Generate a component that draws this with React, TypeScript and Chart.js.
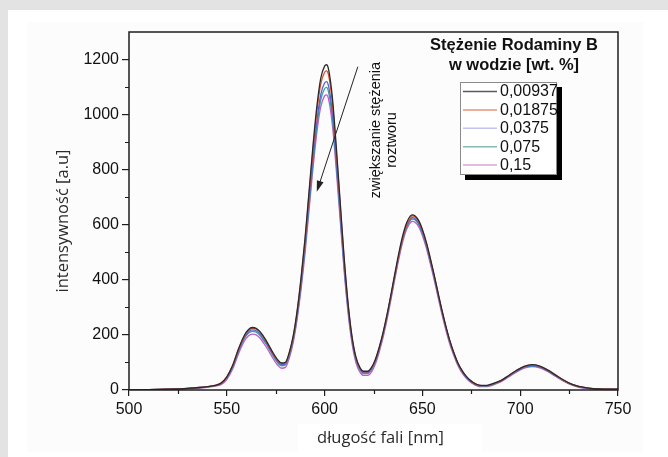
import React, { useEffect, useRef } from 'react';
import { Chart, registerables } from 'chart.js';

Chart.register(...registerables);

const wavelengths = [
  500, 510, 520, 530, 536, 540, 544, 547, 550, 553,
  556, 559, 561, 563, 565, 567, 570, 573, 576, 578,
  580, 582, 584, 586, 588, 590, 592, 594, 596, 598,
  600, 601, 602, 604, 606, 608, 610, 612, 614, 616,
  618, 620, 622, 624, 626, 628, 630, 632, 634, 636,
  638, 640, 642, 644, 645, 646, 648, 650, 652, 654,
  656, 658, 660, 662, 664, 666, 668, 670, 672, 674,
  676, 678, 680, 683, 686, 690, 694, 698, 702, 706,
  710, 714, 718, 722, 726, 730, 735, 740, 745, 750,
];

const c00937 = [
  0, 1, 3, 6, 9, 12, 17, 25, 48, 90,
  150, 199, 219, 227, 224, 212, 181, 143, 110, 98,
  101, 138, 198, 290, 410, 551, 717, 882, 1027, 1131,
  1176, 1181, 1165, 1060, 880, 680, 480, 315, 195, 120,
  82, 68, 68, 82, 112, 157, 212, 277, 350, 426,
  499, 562, 608, 633, 636, 634, 617, 583, 537, 480,
  419, 354, 290, 232, 180, 137, 101, 74, 53, 38,
  27, 20, 17, 17, 23, 34, 52, 71, 86, 92,
  87, 73, 55, 37, 22, 13, 7, 4, 3, 3,
];

const c01875 = [
  0, 1, 3, 6, 9, 12, 17, 24, 47, 88,
  147, 196, 216, 224, 221, 209, 178, 140, 107, 96,
  99, 135, 194, 285, 403, 541, 704, 866, 1008, 1110,
  1154, 1159, 1144, 1041, 864, 668, 471, 309, 191, 117,
  80, 66, 66, 80, 110, 154, 208, 272, 344, 419,
  491, 554, 600, 625, 632, 630, 613, 579, 533, 476,
  415, 350, 287, 229, 177, 135, 99, 72, 52, 37,
  26, 19, 16, 16, 22, 33, 51, 70, 85, 90,
  86, 72, 54, 36, 21, 12, 7, 4, 3, 3,
];

const c0375 = [
  0, 1, 3, 6, 9, 12, 16, 23, 45, 85,
  143, 191, 210, 218, 215, 203, 173, 136, 103, 92,
  95, 130, 188, 275, 390, 523, 680, 836, 974, 1072,
  1115, 1120, 1104, 1005, 834, 645, 455, 299, 184, 113,
  77, 63, 63, 77, 107, 152, 206, 271, 343, 418,
  490, 552, 597, 622, 626, 624, 607, 574, 528, 472,
  412, 348, 285, 228, 176, 134, 98, 71, 51, 36,
  25, 18, 15, 15, 21, 32, 50, 68, 83, 88,
  84, 70, 53, 35, 21, 12, 6, 4, 3, 2,
];

const c075 = [
  0, 1, 3, 5, 8, 11, 16, 22, 43, 83,
  140, 187, 206, 213, 210, 198, 168, 132, 99, 88,
  91, 126, 183, 269, 381, 512, 667, 820, 955, 1052,
  1094, 1099, 1083, 986, 818, 632, 446, 292, 180, 109,
  74, 60, 60, 74, 104, 149, 203, 267, 340, 414,
  486, 548, 592, 617, 621, 619, 602, 569, 523, 467,
  408, 344, 282, 225, 174, 132, 96, 70, 50, 35,
  24, 17, 14, 14, 20, 31, 49, 67, 82, 87,
  83, 69, 52, 35, 20, 11, 6, 4, 3, 2,
];

const c15 = [
  0, 1, 2, 5, 7, 10, 14, 19, 38, 76,
  132, 178, 196, 203, 200, 188, 158, 122, 90, 79,
  82, 117, 174, 259, 368, 497, 650, 801, 933, 1027,
  1068, 1072, 1057, 961, 797, 614, 431, 280, 170, 100,
  66, 53, 53, 66, 95, 140, 194, 258, 331, 406,
  478, 540, 585, 609, 612, 610, 594, 561, 516, 460,
  401, 337, 275, 218, 167, 126, 91, 65, 46, 32,
  22, 15, 12, 12, 18, 29, 47, 65, 79, 85,
  80, 67, 50, 33, 19, 10, 5, 3, 2, 2,
];

const seriesValues = [c00937, c01875, c0375, c075, c15];
const seriesLabels = ['0,00937', '0,01875', '0,0375', '0,075', '0,15'];
const seriesColors = ['#2b2b2b', '#e0502f', '#4f66d2', '#3d9fa3', '#c05cc6'];
const legendColors = ['#5a5a5a', '#e8917c', '#c3c3ec', '#86b9b9', '#d6a6d6'];

const xTicks = [500, 550, 600, 650, 700, 750];
const xMinorTicks = [525, 575, 625, 675, 725];
const yTicks = [0, 200, 400, 600, 800, 1000, 1200];
const yMinorTicks = [100, 300, 500, 700, 900, 1100];

const xTitle = 'długość fali [nm]';
const yTitle = 'intensywność [a.u]';
const legendTitle = ['Stężenie Rodaminy B', 'w wodzie [wt. %]'];
const noteLines = ['zwiększanie stężenia', 'roztworu'];
// arrow in data units: from (nm, value) to (nm, value)
const arrowFrom = [617, 1174];
const arrowTo = [596, 720];
const notePos = [[626.5, 944], [634.3, 908]];

const TICK_FONT = '16px "Liberation Sans", Arial, sans-serif';
const TITLE_FONT = '16.5px "Open Sans", sans-serif';

const decorPlugin = {
  id: 'decor',
  afterDraw(chart: any) {
    const { ctx, chartArea: a, scales } = chart;
    const xs = scales.x;
    const ys = scales.y;
    ctx.save();
    // frame
    ctx.strokeStyle = '#1e1e1e';
    ctx.lineWidth = 1.5;
    ctx.strokeRect(a.left, a.top, a.right - a.left, a.bottom - a.top);
    // minor ticks
    ctx.lineWidth = 1.2;
    ctx.beginPath();
    xMinorTicks.forEach((v) => {
      const px = Math.round(xs.getPixelForValue(v)) + 0.5;
      ctx.moveTo(px, a.bottom);
      ctx.lineTo(px, a.bottom + 4);
    });
    yMinorTicks.forEach((v) => {
      const py = Math.round(ys.getPixelForValue(v)) + 0.5;
      ctx.moveTo(a.left, py);
      ctx.lineTo(a.left - 4, py);
    });
    ctx.stroke();

    // axis titles
    ctx.fillStyle = '#2a2a2a';
    ctx.font = TITLE_FONT;
    ctx.textAlign = 'center';
    ctx.textBaseline = 'middle';
    ctx.fillText(xTitle, (a.left + a.right) / 2 + 7, a.bottom + 48);
    ctx.save();
    ctx.translate(a.left - 66, (a.top + a.bottom) / 2 + 10);
    ctx.rotate(-Math.PI / 2);
    ctx.fillText(yTitle, 0, 0);
    ctx.restore();

    // legend
    const cx = a.right - 104;
    ctx.fillStyle = '#111';
    ctx.font = 'bold 16.5px "Liberation Sans", Arial, sans-serif';
    ctx.fillText(legendTitle[0], cx, a.top + 13);
    ctx.fillText(legendTitle[1], cx, a.top + 33);
    const bx = a.right - 158;
    const by = a.top + 50;
    const bw = 97;
    const bh = 93;
    ctx.fillStyle = '#000';
    ctx.fillRect(bx + 5, by + 5, bw, bh);
    ctx.fillStyle = '#fff';
    ctx.fillRect(bx, by, bw, bh);
    ctx.strokeStyle = '#8a8a8a';
    ctx.lineWidth = 1;
    ctx.strokeRect(bx + 0.5, by + 0.5, bw - 1, bh - 1);
    ctx.font = TICK_FONT;
    ctx.textAlign = 'left';
    seriesLabels.forEach((lab, i) => {
      const ry = by + 9.5 + i * 18.4;
      ctx.strokeStyle = legendColors[i];
      ctx.lineWidth = 1.5;
      ctx.beginPath();
      ctx.moveTo(bx + 3, ry);
      ctx.lineTo(bx + 37, ry);
      ctx.stroke();
      ctx.fillStyle = '#111';
      ctx.fillText(lab, bx + 40, ry + 0.5);
    });

    // arrow
    const x1 = xs.getPixelForValue(arrowFrom[0]);
    const y1 = ys.getPixelForValue(arrowFrom[1]);
    const x2 = xs.getPixelForValue(arrowTo[0]);
    const y2 = ys.getPixelForValue(arrowTo[1]);
    const ang = Math.atan2(y2 - y1, x2 - x1);
    const hl = 11;
    const hw = 3.5;
    ctx.strokeStyle = '#222';
    ctx.lineWidth = 1;
    ctx.beginPath();
    ctx.moveTo(x1, y1);
    ctx.lineTo(x2 - Math.cos(ang) * hl * 0.8, y2 - Math.sin(ang) * hl * 0.8);
    ctx.stroke();
    ctx.fillStyle = '#222';
    ctx.beginPath();
    ctx.moveTo(x2, y2);
    ctx.lineTo(x2 - Math.cos(ang) * hl - Math.sin(ang) * hw, y2 - Math.sin(ang) * hl + Math.cos(ang) * hw);
    ctx.lineTo(x2 - Math.cos(ang) * hl + Math.sin(ang) * hw, y2 - Math.sin(ang) * hl - Math.cos(ang) * hw);
    ctx.closePath();
    ctx.fill();

    // note text
    ctx.fillStyle = '#111';
    ctx.font = '14.5px "Liberation Sans", Arial, sans-serif';
    ctx.textAlign = 'center';
    noteLines.forEach((t, i) => {
      ctx.save();
      ctx.translate(xs.getPixelForValue(notePos[i][0]), ys.getPixelForValue(notePos[i][1]));
      ctx.rotate(-Math.PI / 2);
      ctx.fillText(t, 0, 0);
      ctx.restore();
    });
    ctx.restore();
  },
};

export default function App() {
  const ref = useRef<HTMLCanvasElement | null>(null);

  useEffect(() => {
    if (!ref.current) return;
    const chart = new Chart(ref.current, {
      type: 'line',
      data: {
        datasets: seriesValues.map((vals, i) => ({
          label: seriesLabels[i],
          data: wavelengths.map((w, j) => ({ x: w, y: vals[j] })),
          borderColor: seriesColors[i],
          borderWidth: 1.3,
          pointRadius: 0,
          fill: false,
          cubicInterpolationMode: 'monotone' as const,
        })),
      },
      options: {
        responsive: false,
        animation: false,
        devicePixelRatio: 1,
        layout: { padding: { left: 0, top: 32, right: 50, bottom: 0 } },
        plugins: {
          legend: { display: false },
          tooltip: { enabled: false },
          title: { display: false },
        },
        scales: {
          x: {
            type: 'linear',
            min: 500,
            max: 750,
            afterBuildTicks: (s: any) => {
              s.ticks = xTicks.map((v) => ({ value: v }));
            },
            afterFit: (s: any) => {
              s.height = 67;
            },
            grid: {
              display: true,
              drawOnChartArea: false,
              drawTicks: true,
              tickLength: 6,
              color: '#1e1e1e',
              lineWidth: 1.2,
            },
            border: { display: false },
            ticks: {
              color: '#111',
              font: { family: '"Liberation Sans", Arial, sans-serif', size: 16 },
              padding: 4,
              maxRotation: 0,
              callback: (v: any) => String(v),
            },
          },
          y: {
            type: 'linear',
            min: 0,
            max: 1300,
            afterBuildTicks: (s: any) => {
              s.ticks = yTicks.map((v) => ({ value: v }));
            },
            afterFit: (s: any) => {
              s.width = 129;
            },
            grid: {
              display: true,
              drawOnChartArea: false,
              drawTicks: true,
              tickLength: 7,
              color: '#1e1e1e',
              lineWidth: 1.2,
            },
            border: { display: false },
            ticks: {
              color: '#111',
              font: { family: '"Liberation Sans", Arial, sans-serif', size: 16 },
              padding: 3,
              callback: (v: any) => String(v),
            },
          },
        },
      },
      plugins: [decorPlugin],
    });
    return () => chart.destroy();
  }, []);

  return (
    <div style={{ position: 'fixed', left: 0, top: 0, width: 668, height: 457, background: '#e3e3e3', overflow: 'hidden' }}>
      <div style={{ position: 'absolute', left: 8, top: 10, right: 0, bottom: 0, background: '#ffffff' }} />
      <div style={{ position: 'absolute', left: 27, top: 22, width: 616, height: 430, background: '#fcfcfc' }} />
      <div style={{ position: 'absolute', left: 298, top: 424, width: 184, height: 28, background: '#ffffff' }} />
      <canvas ref={ref} width={668} height={457} style={{ position: 'absolute', left: 0, top: 0 }} />
    </div>
  );
}
